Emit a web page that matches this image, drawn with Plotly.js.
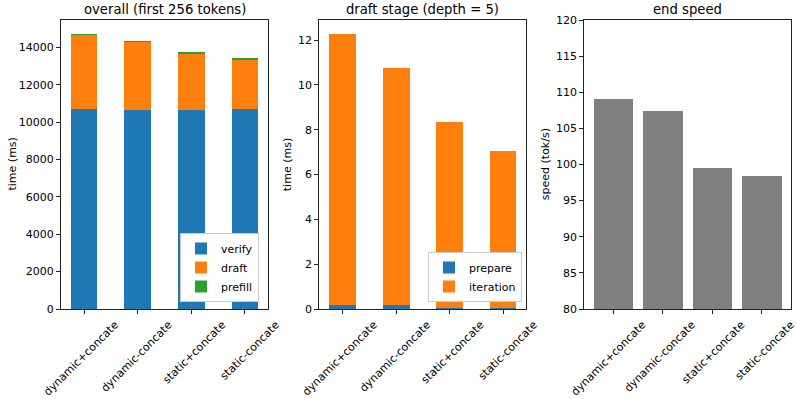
<!DOCTYPE html>
<html>
<head>
<meta charset="utf-8">
<script src="https://cdn.plot.ly/plotly-3.0.1.min.js"></script>
<style>
  html, body { margin: 0; padding: 0; background: #fff; }
  #chart { width: 797px; height: 399px; }
</style>
</head>
<body>
<div id="chart"></div>
<script>
const methods = ["dynamic+concate", "dynamic-concate", "static+concate", "static-concate"];

// overall (first 256 tokens), ms
const verifyMs = [10680, 10650, 10620, 10700];
const draftMs = [3970, 3610, 3000, 2630];
const prefillMs = [80, 100, 100, 100];

// draft stage (depth = 5), ms
const prepareMs = [0.18, 0.17, 0.05, 0.05];
const iterationMs = [12.11, 10.6, 8.28, 7.0];

// end speed, tok/s
const speed = [109.0, 107.35, 99.5, 98.45];

const blue = "#1f77b4", orange = "#ff7f0e", green = "#2ca02c", gray = "#808080";
const font = "DejaVu Sans, sans-serif";

const data = [
    { x: methods, y: verifyMs, name: "verify", type: "bar", width: 0.5,
      marker: { color: blue }, xaxis: "x", yaxis: "y", legend: "legend" },
    { x: methods, y: draftMs, name: "draft", type: "bar", width: 0.5,
      marker: { color: orange }, xaxis: "x", yaxis: "y", legend: "legend" },
    { x: methods, y: prefillMs, name: "prefill", type: "bar", width: 0.5,
      marker: { color: green }, xaxis: "x", yaxis: "y", legend: "legend" },
    { x: methods, y: prepareMs, name: "prepare", type: "bar", width: 0.5,
      marker: { color: blue }, xaxis: "x2", yaxis: "y2", legend: "legend2" },
    { x: methods, y: iterationMs, name: "iteration", type: "bar", width: 0.5,
      marker: { color: orange }, xaxis: "x2", yaxis: "y2", legend: "legend2" },
    { x: methods, y: speed, name: "speed", type: "bar", width: 0.8,
      marker: { color: gray }, xaxis: "x3", yaxis: "y3", showlegend: false }
];

const yDom = [90 / 399, 379 / 399];

function xAxis(domain, range, shift) {
    return {
        domain: domain, range: range, type: "category",
        showline: true, mirror: true, linecolor: "#222", linewidth: 1,
        ticks: "outside", ticklen: 4, tickcolor: "#222",
        tickangle: -45, ticklabelshift: shift, ticklabelstandoff: 0,
        tickfont: { size: 11, color: "#000", family: font },
        showgrid: false, zeroline: false, automargin: false, fixedrange: true
    };
}
function yAxis(domain, range, dtick, anchor) {
    return {
        domain: domain, range: range, dtick: dtick, tick0: 0, tickformat: "d",
        anchor: anchor,
        showline: true, mirror: true, linecolor: "#222", linewidth: 1,
        ticks: "outside", ticklen: 4, tickcolor: "#222",
        tickfont: { size: 11, color: "#000", family: font },
        showgrid: false, zeroline: false, automargin: false, fixedrange: true
    };
}

function note(text, x, y, angle, size) {
    return { text: text, x: x, y: y, xref: "paper", yref: "paper",
             xanchor: "center", yanchor: "middle", showarrow: false,
             textangle: angle, font: { size: size, color: "#000", family: font } };
}

function legendAt(xRight) {
    return {
        x: xRight / 797, y: 97 / 399, xanchor: "right", yanchor: "bottom",
        traceorder: "normal", bgcolor: "#ffffff",
        bordercolor: "#cccccc", borderwidth: 1, itemwidth: 30,
        font: { size: 11, family: font, color: "#000" }
    };
}

const layout = {
    width: 797, height: 399,
    margin: { l: 0, r: 0, t: 0, b: 0 },
    paper_bgcolor: "#fff", plot_bgcolor: "#fff",
    barmode: "stack", bargap: 0,
    font: { family: font, color: "#000" },
    xaxis: xAxis([61 / 797, 268 / 797], [-0.43, 3.43], 31),
    yaxis: yAxis(yDom, [0, 15458], 2000, "x"),
    xaxis2: xAxis([319.3 / 797, 526 / 797], [-0.44, 3.43], 31),
    yaxis2: yAxis(yDom, [0, 12.9], 2, "x2"),
    xaxis3: xAxis([584.3 / 797, 791 / 797], [-0.59, 3.59], 29),
    yaxis3: yAxis(yDom, [80, 120], 5, "x3"),
    legend: legendAt(259),
    legend2: legendAt(522),
    annotations: [
        note("overall (first 256 tokens)", 164.5 / 797, 1 - 9.5 / 399, 0, 13.2),
        note("draft stage (depth = 5)", 422.6 / 797, 1 - 9.5 / 399, 0, 13.2),
        note("end speed", 687.6 / 797, 1 - 9.5 / 399, 0, 13.2),
        note("time (ms)", 12 / 797, 1 - 164.5 / 399, -90, 11),
        note("time (ms)", 287.7 / 797, 1 - 164.5 / 399, -90, 11),
        note("speed (tok/s)", 545.7 / 797, 1 - 164.5 / 399, -90, 11)
    ]
};

Plotly.newPlot("chart", data, layout, { staticPlot: true, displayModeBar: false });
</script>
</body>
</html>
